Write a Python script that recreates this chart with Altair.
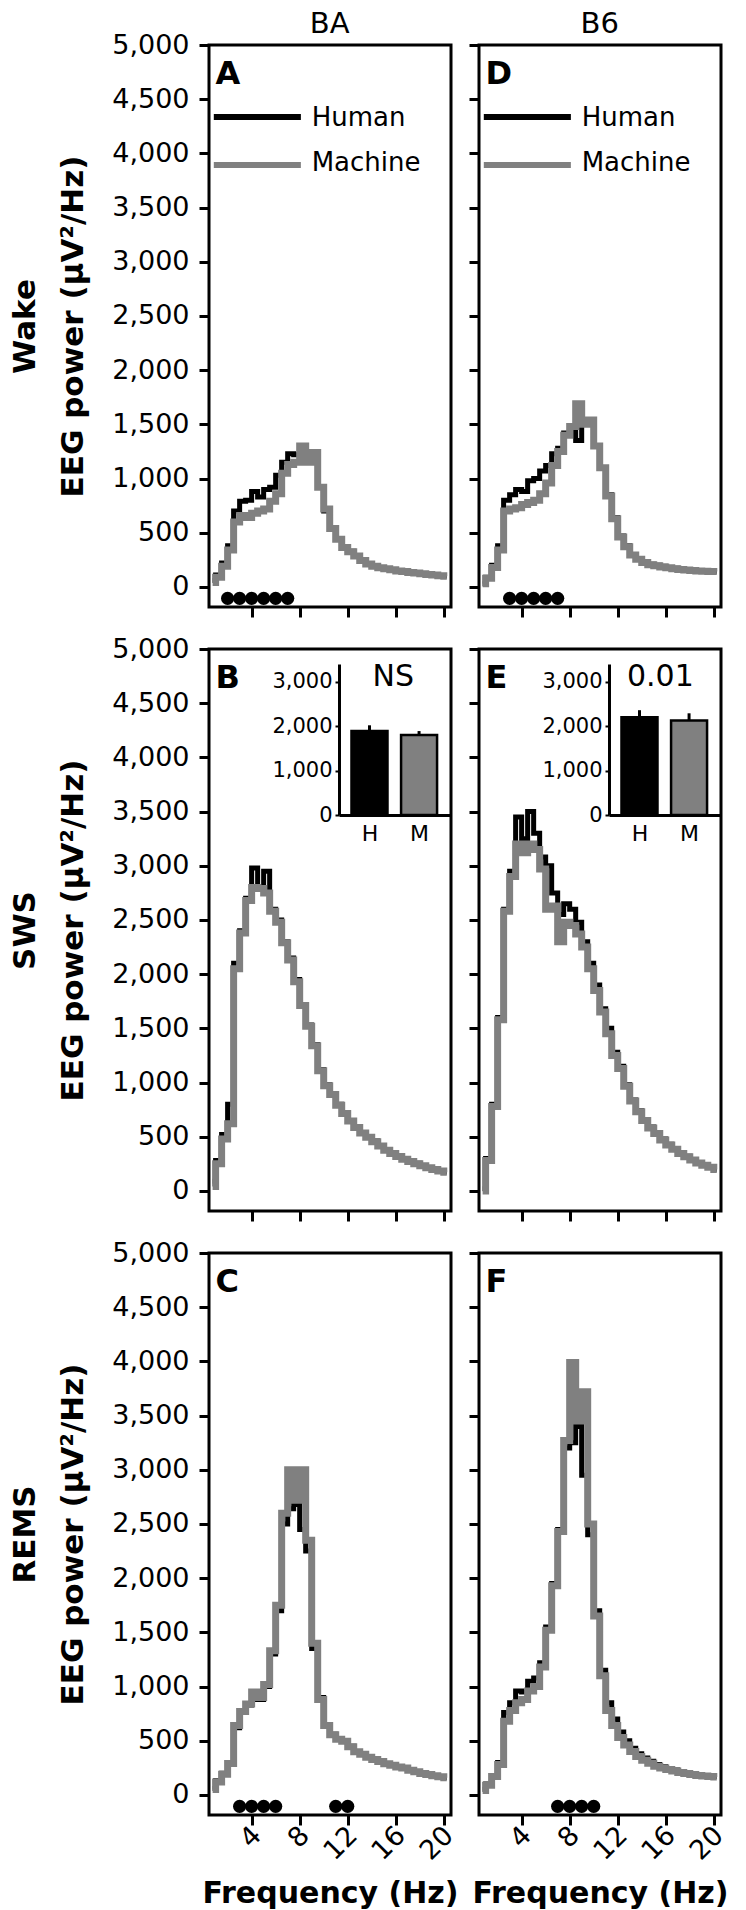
import altair as alt
import pandas as pd

# ---------------- data ----------------
freq = [0.75, 1.25, 1.75, 2.25, 2.75, 3.25, 3.75, 4.25, 4.75, 5.25,
        5.75, 6.25, 6.75, 7.25, 7.75, 8.25, 8.75, 9.25, 9.75, 10.25,
        10.75, 11.25, 11.75, 12.25, 12.75, 13.25, 13.75, 14.25, 14.75, 15.25,
        15.75, 16.25, 16.75, 17.25, 17.75, 18.25, 18.75, 19.25, 19.75, 20.25]

# Panel A: BA, Wake
ba_wake_human = [60, 110, 220, 380, 700, 790, 800, 880, 830, 900,
                 920, 1030, 1150, 1230, 1220, 1190, 1160, 1150, 920, 700,
                 540, 440, 370, 330, 290, 250, 215, 195, 180, 170,
                 160, 150, 145, 135, 130, 125, 118, 112, 105, 100]
ba_wake_machine = [40, 90, 190, 340, 600, 660, 640, 680, 700, 720,
                   790, 860, 1050, 1130, 1150, 1300, 1150, 1240, 920, 720,
                   540, 440, 365, 325, 285, 245, 212, 192, 178, 168,
                   158, 148, 142, 133, 128, 122, 116, 110, 104, 98]
# Panel D: B6, Wake
b6_wake_human = [30, 90, 200, 380, 800, 850, 900, 880, 980, 1000,
                 1070, 1120, 1230, 1280, 1420, 1490, 1350, 1500, 1530, 1300,
                 1100, 850, 640, 470, 380, 300, 260, 230, 210, 200,
                 190, 180, 172, 165, 160, 155, 150, 147, 145, 145]
b6_wake_machine = [30, 80, 180, 340, 700, 720, 730, 760, 780, 800,
                   860, 960, 1120, 1250, 1400, 1480, 1690, 1500, 1540, 1300,
                   1100, 840, 630, 460, 370, 295, 255, 225, 205, 195,
                   185, 176, 168, 162, 157, 152, 148, 145, 143, 142]
# Panel B: BA, SWS
ba_sws_human = [90, 280, 520, 800, 2100, 2400, 2700, 2980, 2800, 2950,
                2600, 2500, 2300, 2150, 1950, 1720, 1530, 1350, 1120, 980,
                900, 800, 720, 650, 590, 540, 500, 460, 420, 380,
                350, 320, 295, 275, 255, 235, 215, 200, 185, 175]
ba_sws_machine = [40, 250, 480, 620, 2050, 2380, 2680, 2800, 2790, 2750,
                  2580, 2480, 2290, 2130, 1930, 1710, 1520, 1340, 1110, 970,
                  890, 790, 715, 645, 585, 535, 495, 455, 415, 375,
                  345, 318, 292, 272, 252, 232, 213, 198, 183, 172]
# Panel E: B6, SWS
b6_sws_human = [20, 300, 800, 1600, 2600, 2950, 3450, 3250, 3500, 3300,
                3080, 3000, 2750, 2550, 2650, 2600, 2480, 2300, 2100, 1900,
                1680, 1500, 1280, 1150, 980, 840, 740, 660, 590, 540,
                480, 430, 390, 350, 320, 290, 260, 240, 220, 200]
b6_sws_machine = [0, 280, 780, 1580, 2580, 2900, 3200, 3120, 3200, 3150,
                  2970, 2600, 2630, 2300, 2480, 2450, 2370, 2250, 2050, 1850,
                  1650, 1450, 1250, 1130, 965, 830, 730, 650, 580, 530,
                  470, 425, 385, 345, 315, 285, 258, 238, 218, 198]
# Panel C: BA, REMS
ba_rems_human = [60, 130, 200, 300, 620, 760, 830, 880, 880, 1000,
                 1300, 1700, 2500, 2640, 2680, 2450, 2250, 1350, 900, 650,
                 560, 520, 500, 450, 400, 380, 350, 330, 310, 290,
                 275, 260, 250, 230, 215, 200, 190, 180, 170, 160]
ba_rems_machine = [50, 120, 190, 290, 640, 770, 840, 950, 900, 1020,
                   1330, 1750, 2600, 3000, 2720, 3000, 2350, 1400, 880, 640,
                   555, 515, 495, 445, 398, 376, 348, 328, 308, 288,
                   273, 258, 248, 228, 213, 198, 188, 178, 168, 158]
# Panel F: B6, REMS
b6_rems_human = [50, 100, 180, 300, 760, 850, 960, 950, 1050, 1080,
                 1220, 1550, 1950, 2450, 3200, 3250, 3400, 2950, 2400, 1700,
                 1150, 850, 700, 580, 500, 430, 380, 340, 310, 280,
                 260, 245, 230, 215, 205, 195, 185, 180, 175, 170]
b6_rems_machine = [40, 90, 170, 280, 680, 780, 850, 880, 960, 1000,
                   1180, 1520, 1930, 2430, 3270, 3990, 3450, 3720, 2500, 1650,
                   1100, 780, 640, 530, 460, 400, 355, 320, 292, 265,
                   248, 234, 220, 206, 197, 188, 180, 174, 170, 166]

# significant frequency bins (dots under the curves)
ba_wake_sig = [2, 3, 4, 5, 6, 7]
b6_wake_sig = [3, 4, 5, 6, 7]
ba_sws_sig = []
b6_sws_sig = []
ba_rems_sig = [3, 4, 5, 6, 11, 12]
b6_rems_sig = [7, 8, 9, 10]

# SWS inset bar charts (total power)
inset_groups = ["H", "M"]
inset_pos = [1, 2]
ba_sws_total = [1890, 1800]
ba_sws_sem = [130, 90]
b6_sws_total = [2200, 2130]
b6_sws_sem = [160, 160]

x_ticks = [4, 8, 12, 16, 20]
y_ticks = [0, 500, 1000, 1500, 2000, 2500, 3000, 3500, 4000, 4500, 5000]
inset_ticks = [0, 1000, 2000, 3000]
scorers = ["Human", "Machine"]

# ---------------- styling ----------------
FONT = "DejaVu Sans"
GRAY = "#808080"
W, H = 242, 562
X_DOMAIN = [0.45, 20.6]
Y_DOMAIN = [-185, 5000]
SIG_LEVEL = -105
LETTER_POS = (1.0, 4640)
LEG_X = (0.85, 8.1)
LEG_Y = (4335, 3893)
LEG_TEXT_X = 9.0
LEG_TEXT_Y = (4253, 3838)
COL_TITLE_POS = (10.5, 5110)


def build_panel(letter, human, machine, sig, col_title=None, row_title=None,
                legend=False, inset=None, show_y_labels=True, bottom=False):
    x_axis_kw = dict(values=x_ticks, labels=bottom, grid=False, domain=False,
                     tickSize=10, tickWidth=3, tickColor="black")
    if bottom:
        x_axis_kw.update(title="Frequency (Hz)", labelAngle=-45, labelFontSize=27,
                         labelFont=FONT, labelColor="black", labelAlign="right",
                         labelBaseline="middle", labelPadding=6, labelOffset=5,
                         titleFont=FONT, titleFontSize=30, titleFontWeight="bold",
                         titleColor="black", titlePadding=14)
    else:
        x_axis_kw.update(title="")
    y_axis_kw = dict(values=y_ticks, labels=show_y_labels, format=",.0f", grid=False,
                     domain=False, tickSize=10, tickWidth=3, tickColor="black",
                     labelFont=FONT, labelFontSize=27, labelColor="black",
                     labelPadding=10)
    if row_title:
        y_axis_kw.update(title=row_title, titleFont=FONT, titleFontSize=31,
                         titleFontWeight="bold", titleColor="black",
                         titleLineHeight=48, titlePadding=22)
    else:
        y_axis_kw.update(title="")

    x_enc = alt.X("f:Q", scale=alt.Scale(domain=X_DOMAIN, nice=False, zero=False),
                  axis=alt.Axis(**x_axis_kw))
    y_enc = alt.Y("v:Q", scale=alt.Scale(domain=Y_DOMAIN, nice=False, zero=False),
                  axis=alt.Axis(**y_axis_kw))

    df_h = pd.DataFrame({"f": freq, "v": human})
    df_m = pd.DataFrame({"f": freq, "v": machine})
    layers = [
        alt.Chart(df_h).mark_line(interpolate="step", color="black", strokeWidth=5)
        .encode(x=x_enc, y=y_enc),
        alt.Chart(df_m).mark_line(interpolate="step", color=GRAY, strokeWidth=7)
        .encode(x=x_enc, y=y_enc),
    ]
    if sig:
        df_s = pd.DataFrame({"f": sig, "v": [SIG_LEVEL] * len(sig)})
        layers.append(alt.Chart(df_s).mark_circle(size=175, color="black", opacity=1)
                      .encode(x=x_enc, y=y_enc))
    df_l = pd.DataFrame({"f": [LETTER_POS[0]], "v": [LETTER_POS[1]], "t": [letter]})
    layers.append(alt.Chart(df_l).mark_text(font=FONT, fontSize=32, fontWeight="bold",
                                            align="left", baseline="alphabetic",
                                            color="black")
                  .encode(x=x_enc, y=y_enc, text="t:N"))
    if col_title:
        df_t = pd.DataFrame({"f": [COL_TITLE_POS[0]], "v": [COL_TITLE_POS[1]], "t": [col_title]})
        layers.append(alt.Chart(df_t).mark_text(font=FONT, fontSize=29, align="center",
                                                baseline="alphabetic", color="black")
                      .encode(x=x_enc, y=y_enc, text="t:N"))
    if legend:
        df_leg = pd.DataFrame({"f": [LEG_X[0]] * 2, "f2": [LEG_X[1]] * 2,
                               "v": list(LEG_Y), "s": scorers})
        layers.append(alt.Chart(df_leg[df_leg.s == "Human"]).mark_rule(color="black", strokeWidth=6)
                      .encode(x=x_enc, x2="f2:Q", y=y_enc))
        layers.append(alt.Chart(df_leg[df_leg.s == "Machine"]).mark_rule(color=GRAY, strokeWidth=6)
                      .encode(x=x_enc, x2="f2:Q", y=y_enc))
        df_lt = pd.DataFrame({"f": [LEG_TEXT_X] * 2, "v": list(LEG_TEXT_Y), "t": scorers})
        layers.append(alt.Chart(df_lt).mark_text(font=FONT, fontSize=26, align="left",
                                                 baseline="alphabetic", color="black")
                      .encode(x=x_enc, y=y_enc, text="t:N"))
    main = alt.layer(*layers)

    if inset is not None:
        means, sems, note, note_x = inset
        df_i = pd.DataFrame({"pos": inset_pos, "grp": inset_groups, "mean": means,
                             "top": [m + s for m, s in zip(means, sems)]})
        bx = alt.X("pos:Q",
                   scale=alt.Scale(domain=[0.486, 2.523], range=[130, 241], nice=False, zero=False),
                   axis=alt.Axis(orient="bottom", offset=-396, values=inset_pos,
                                 labelExpr="datum.value == 1 ? 'H' : 'M'", ticks=False,
                                 domainWidth=3, domainColor="black", grid=False, title="",
                                 labelFont=FONT, labelFontSize=22, labelColor="black",
                                 labelFontWeight="normal", labelPadding=8))
        by = alt.Y("mean:Q",
                   scale=alt.Scale(domain=[0, 3400], range=[166, 15], nice=False, zero=False),
                   axis=alt.Axis(orient="left", offset=-130, values=inset_ticks, format=",.0f",
                                 tickSize=4, tickWidth=2, tickColor="black",
                                 domainWidth=3, domainColor="black", grid=False, title="",
                                 labelFont=FONT, labelFontSize=21, labelColor="black",
                                 labelPadding=3))
        bars = alt.Chart(df_i).mark_bar(size=36, stroke="black", strokeWidth=2.5).encode(
            x=bx, y=by,
            fill=alt.Fill("grp:N", scale=alt.Scale(domain=inset_groups, range=["black", GRAY]),
                          legend=None))
        errs = alt.Chart(df_i).mark_rule(color="black", strokeWidth=3).encode(
            x=bx, y=by, y2="top:Q")
        df_n = pd.DataFrame({"pos": [note_x], "mean": [3100], "t": [note]})
        txt = alt.Chart(df_n).mark_text(font=FONT, fontSize=30, baseline="middle",
                                        color="black").encode(x=bx, y=by, text="t:N")
        inset_chart = alt.layer(bars, errs, txt)
        panel = alt.layer(main, inset_chart).resolve_scale(x="independent", y="independent")
    else:
        panel = main

    return panel.properties(width=W, height=H)


ylab = "EEG power (μV²/Hz)"
pA = build_panel("A", ba_wake_human, ba_wake_machine, ba_wake_sig, col_title="BA",
                 row_title=["Wake", ylab], legend=True)
pD = build_panel("D", b6_wake_human, b6_wake_machine, b6_wake_sig, col_title="B6",
                 legend=True, show_y_labels=False)
pB = build_panel("B", ba_sws_human, ba_sws_machine, ba_sws_sig, row_title=["SWS", ylab],
                 inset=(ba_sws_total, ba_sws_sem, "NS", 1.48))
pE = build_panel("E", b6_sws_human, b6_sws_machine, b6_sws_sig, show_y_labels=False,
                 inset=(b6_sws_total, b6_sws_sem, "0.01", 1.42))
pC = build_panel("C", ba_rems_human, ba_rems_machine, ba_rems_sig, row_title=["REMS", ylab],
                 bottom=True)
pF = build_panel("F", b6_rems_human, b6_rems_machine, b6_rems_sig, show_y_labels=False,
                 bottom=True)

chart = alt.concat(pA, pD, pB, pE, pC, pF, columns=2,
                   spacing={"row": 42, "column": 28}, bounds="flush",
                   padding={"left": 0, "top": 0, "right": 0, "bottom": 0}).configure(
    background="white").configure_view(stroke="black", strokeWidth=3)

chart.save("out.html", embed_options={"renderer": "svg", "actions": False})
